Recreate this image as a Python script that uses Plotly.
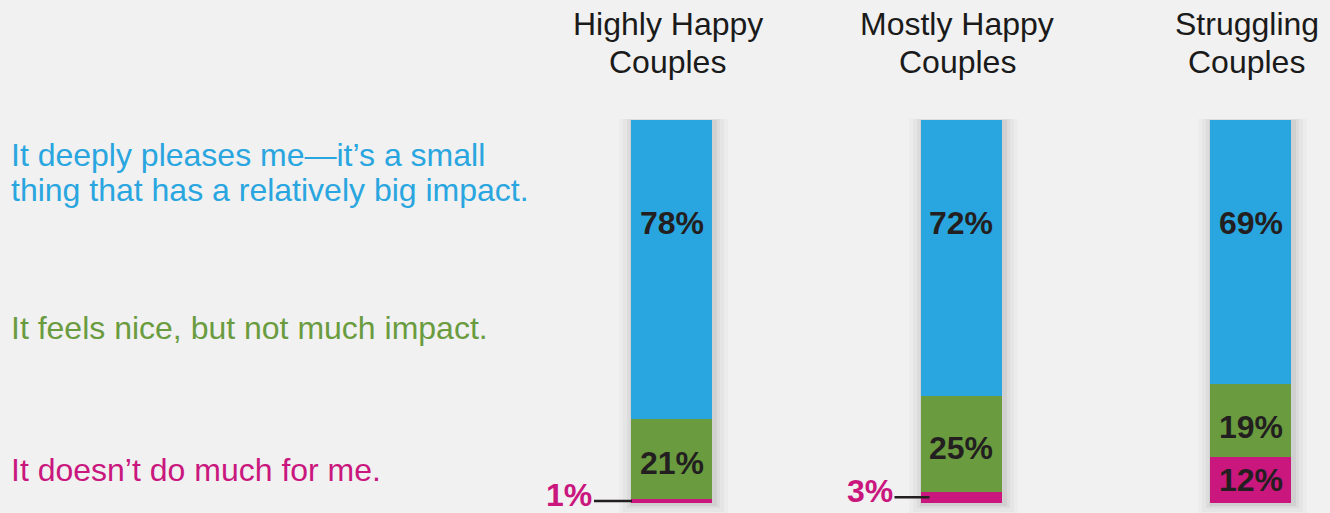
import plotly.graph_objects as go

groups = ["Highly Happy<br>Couples", "Mostly Happy<br>Couples", "Struggling<br>Couples"]
big_impact = [78, 72, 69]
nice_only = [21, 25, 19]
not_much = [1, 3, 12]

answer_lines = [
    ["It deeply pleases me—it’s a small", "thing that has a relatively big impact."],
    ["It feels nice, but not much impact."],
    ["It doesn’t do much for me."],
]

BLUE = "#29a6df"
GREEN = "#6a9c3f"
PINK = "#c9177e"
DARK = "#231f20"
BG = "#f1f1f1"
FONT = "Liberation Sans, Arial, sans-serif"
FS = 32

W, H = 1330, 513
PX_PER_X = 289.5
PX_PER_Y = 3.83
x0_px = 671.5
y0_px = 503
xs = list(range(len(groups)))
bw = 81 / PX_PER_X

x_range = [-x0_px / PX_PER_X, (W - x0_px) / PX_PER_X]
y_range = [-(H - y0_px) / PX_PER_Y, y0_px / PX_PER_Y]

# leader-line styling for the small outside labels (pixels)
leader_len = {0: 38, 1: 35}
leader_overlap = {0: 1, 1: 9}

fig = go.Figure()

# soft shadow layers
totals = [a + b + c for a, b, c in zip(big_impact, nice_only, not_much)]
for grow, op in [(14, 0.025), (10, 0.035), (6, 0.05), (3, 0.07)]:
    gx = grow / PX_PER_X
    gy = grow / PX_PER_Y
    fig.add_trace(go.Bar(
        x=[x + 2 / PX_PER_X for x in xs], y=[t + gy for t in totals],
        base=[-gy * 0.9] * len(xs), width=bw + 2 * gx,
        marker=dict(color=f"rgba(60,60,60,{op})", line=dict(width=0)),
        hoverinfo="skip", showlegend=False))

bases_nice = list(not_much)
bases_big = [a + b for a, b in zip(not_much, nice_only)]

for vals, base, col in [(not_much, [0] * 3, PINK), (nice_only, bases_nice, GREEN), (big_impact, bases_big, BLUE)]:
    fig.add_trace(go.Bar(x=xs, y=vals, base=base, width=bw,
                         marker=dict(color=col, line=dict(width=0)),
                         hoverinfo="skip", showlegend=False))

ann = []
# headers (one annotation per line for tighter line spacing)
header_ys = [24, 62]
for x, g in zip(xs, groups):
    for line, yy in zip(g.split("<br>"), header_ys):
        ann.append(dict(x=x, y=1 - yy / H, xref="x", yref="paper", text=line, showarrow=False,
                        xshift=-4, font=dict(family=FONT, size=FS, color="#1a1a1a"),
                        xanchor="center", yanchor="middle"))

# answer labels on left
label_cols = [BLUE, GREEN, PINK]
label_ys = [[155, 190], [328], [470]]
for lines, ys, col in zip(answer_lines, label_ys, label_cols):
    for t, yy in zip(lines, ys):
        ann.append(dict(x=9 / W, y=1 - yy / H, xref="paper", yref="paper", text=t,
                        showarrow=False, xanchor="left", yanchor="middle",
                        font=dict(family=FONT, size=FS, color=col)))

bold = dict(family=FONT, size=FS, color=DARK)
for i, x in enumerate(xs):
    top = totals[i]
    ann.append(dict(x=x, y=top - 27, xref="x", yref="y", text=f"<b>{big_impact[i]}%</b>",
                    showarrow=False, font=bold, yanchor="middle"))
    ann.append(dict(x=x, y=bases_nice[i] + nice_only[i] * 0.45, xref="x", yref="y",
                    text=f"<b>{nice_only[i]}%</b>", showarrow=False, font=bold, yanchor="middle",
                    yshift=-3 if not_much[i] >= 6 else 0))
    if not_much[i] >= 6:
        ann.append(dict(x=x, y=not_much[i] / 2, xref="x", yref="y",
                        text=f"<b>{not_much[i]}%</b>", showarrow=False, font=bold, yanchor="middle"))
    else:
        ymid = not_much[i] / 2
        left = x - bw / 2
        end = left + leader_overlap[i] / PX_PER_X
        start = end - leader_len[i] / PX_PER_X
        fig.add_shape(type="line", x0=start, x1=end, y0=ymid, y1=ymid, xref="x", yref="y",
                      line=dict(color=DARK, width=2.5), layer="above")
        ann.append(dict(x=start, y=ymid, xref="x", yref="y", text=f"<b>{not_much[i]}%</b>",
                        showarrow=False, xanchor="right", yanchor="middle", xshift=-1, yshift=6,
                        borderpad=0,
                        font=dict(family=FONT, size=FS, color=PINK)))

fig.update_layout(
    width=W, height=H, margin=dict(l=0, r=0, t=0, b=0),
    paper_bgcolor=BG, plot_bgcolor=BG, barmode="overlay", bargap=0,
    xaxis=dict(range=x_range, visible=False, fixedrange=True),
    yaxis=dict(range=y_range, visible=False, fixedrange=True),
    annotations=ann, showlegend=False,
)

fig.write_html(
    "out.html",
    config={"displayModeBar": False},
    post_script="document.body.style.margin='0';document.body.style.background='#f1f1f1';document.body.style.overflow='hidden';",
)
